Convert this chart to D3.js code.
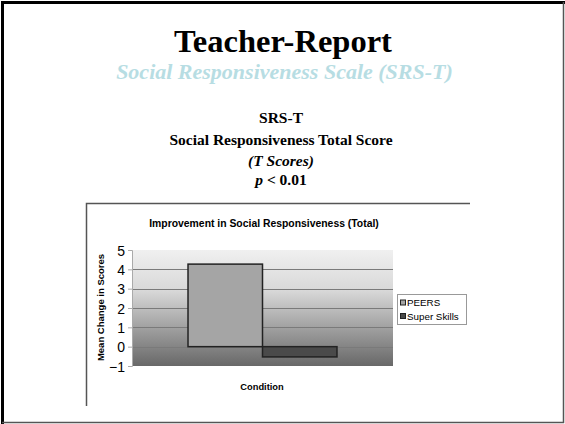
<!DOCTYPE html>
<html>
<head>
<meta charset="utf-8">
<script src="https://cdnjs.cloudflare.com/ajax/libs/d3/7.8.5/d3.min.js"></script>
<style>
  body { margin: 0; background: #fff; }
  svg { display: block; }
</style>
</head>
<body>
<svg id="slide" width="565" height="424"></svg>
<script>
// chart data
var categories = ['Condition'];
var seriesNames = ['PEERS', 'Super Skills'];
var seriesValues = [4.27, -0.53];
var seriesColors = ['#a5a5a5', '#4a4a4a'];
var yTicks = [-1, 0, 1, 2, 3, 4, 5];

var svg = d3.select('#slide');
var serif = '"Liberation Serif", "Times New Roman", serif';
var sans = '"Liberation Sans", Arial, sans-serif';

// slide frame
svg.append('rect').attr('x', 0).attr('y', 0).attr('width', 565).attr('height', 424).attr('fill', '#fff');
svg.append('path').attr('d', 'M2.5 424 L2.5 2.5 L565 2.5').attr('fill', 'none').attr('stroke', '#000').attr('stroke-width', 3);
svg.append('path').attr('d', 'M2 422.5 L563.5 422.5 L563.5 2').attr('fill', 'none').attr('stroke', '#555').attr('stroke-width', 1.5);

// slide headings
svg.append('text').attr('x', 283).attr('y', 52).attr('text-anchor', 'middle')
  .style('font-family', serif).style('font-weight', 'bold').style('font-size', '32.5px')
  .text('Teacher-Report');
svg.append('text').attr('x', 284.5).attr('y', 79).attr('text-anchor', 'middle')
  .style('font-family', serif).style('font-weight', 'bold').style('font-style', 'italic')
  .style('font-size', '22px').attr('fill', '#b7dde3')
  .text('Social Responsiveness Scale (SRS-T)');

var lines = [
  {t: 'SRS-T', y: 123, italic: false},
  {t: 'Social Responsiveness Total Score', y: 145, italic: false},
  {t: '(T Scores)', y: 165.5, italic: true}
];
lines.forEach(function(l){
  svg.append('text').attr('x', 281).attr('y', l.y).attr('text-anchor', 'middle')
    .style('font-family', serif).style('font-weight', 'bold').style('font-size', '15.5px')
    .style('font-style', l.italic ? 'italic' : 'normal')
    .text(l.t);
});
var pline = svg.append('text').attr('x', 281).attr('y', 185).attr('text-anchor', 'middle')
  .style('font-family', serif).style('font-weight', 'bold').style('font-size', '15.5px');
pline.append('tspan').style('font-style', 'italic').text('p');
pline.append('tspan').text(' < 0.01');

// chart frame (cropped picture, only left and top edges show)
svg.append('path').attr('d', 'M86.5 406 L86.5 203.5 L470 203.5').attr('fill', 'none').attr('stroke', '#555').attr('stroke-width', 1.5);

// plot area
var plot = {left: 132, right: 393, top: 250, bottom: 366};
var y = d3.scaleLinear().domain([-1, 5]).range([plot.bottom, plot.top]);
var x0 = d3.scaleBand().domain(categories).range([plot.left, plot.right]).paddingInner(0).paddingOuter(0.376);
var x1 = d3.scaleBand().domain(seriesNames).range([0, x0.bandwidth()]);

var defs = svg.append('defs');
var grad = defs.append('linearGradient').attr('id', 'bg').attr('x1', 0).attr('y1', 0).attr('x2', 0).attr('y2', 1);
grad.append('stop').attr('offset', '0%').attr('stop-color', '#f0f0f0');
grad.append('stop').attr('offset', '35%').attr('stop-color', '#d8d8d8');
grad.append('stop').attr('offset', '100%').attr('stop-color', '#686868');

svg.append('rect').attr('x', plot.left).attr('y', plot.top)
  .attr('width', plot.right - plot.left).attr('height', plot.bottom - plot.top)
  .attr('fill', 'url(#bg)');

// gridlines
svg.append('g').selectAll('line').data(yTicks.filter(function(d){ return d > -1 && d < 5; }))
  .enter().append('line')
  .attr('x1', plot.left).attr('x2', plot.right)
  .attr('y1', function(d){ return Math.round(y(d)) + 0.5; })
  .attr('y2', function(d){ return Math.round(y(d)) + 0.5; })
  .attr('stroke', '#7a7a7a').attr('stroke-width', 1);

// y axis
var yAxis = d3.axisLeft(y).tickValues(yTicks).tickFormat(d3.format('d')).tickSize(4).tickPadding(3);
var gy = svg.append('g').attr('transform', 'translate(' + plot.left + ',0)').call(yAxis);
gy.select('.domain').attr('stroke', '#aaa');
gy.selectAll('.tick line').attr('stroke', '#aaa');
gy.selectAll('.tick text').style('font-family', sans).style('font-size', '14px').attr('fill', '#000').attr('dy', '0.36em');

// bars
var barData = seriesNames.map(function(s, i){ return {name: s, value: seriesValues[i], color: seriesColors[i]}; });
svg.append('g').attr('transform', 'translate(' + x0(categories[0]) + ',0)')
  .selectAll('rect').data(barData).enter().append('rect')
  .attr('x', function(d){ return x1(d.name); })
  .attr('width', x1.bandwidth())
  .attr('y', function(d){ return y(Math.max(0, d.value)); })
  .attr('height', function(d){ return Math.abs(y(d.value) - y(0)); })
  .attr('fill', function(d){ return d.color; })
  .attr('stroke', '#222').attr('stroke-width', 1.5);

// chart title and axis titles
svg.append('text').attr('x', 264).attr('y', 227).attr('text-anchor', 'middle')
  .style('font-family', sans).style('font-weight', 'bold').style('font-size', '10.4px')
  .text('Improvement in Social Responsiveness (Total)');
svg.append('text').attr('x', 262).attr('y', 390).attr('text-anchor', 'middle')
  .style('font-family', sans).style('font-weight', 'bold').style('font-size', '9.3px')
  .text('Condition');
svg.append('text').attr('transform', 'translate(104,307.5) rotate(-90)').attr('text-anchor', 'middle')
  .style('font-family', sans).style('font-weight', 'bold').style('font-size', '9.5px')
  .text('Mean Change in Scores');

// legend
var lg = svg.append('g');
lg.append('rect').attr('x', 397.5).attr('y', 294.5).attr('width', 69).attr('height', 30)
  .attr('fill', '#fff').attr('stroke', '#999');
var items = lg.selectAll('g').data(barData).enter().append('g')
  .attr('transform', function(d, i){ return 'translate(400.5,' + (303 + i * 13.5) + ')'; });
items.append('rect').attr('x', 0).attr('y', -3).attr('width', 5).attr('height', 5)
  .attr('fill', function(d){ return d.color; }).attr('stroke', '#222').attr('stroke-width', 1);
items.append('text').attr('x', 6.5).attr('y', 0).attr('dy', '0.35em')
  .style('font-family', sans).style('font-size', '9.8px')
  .text(function(d){ return d.name; });
</script>
</body>
</html>
